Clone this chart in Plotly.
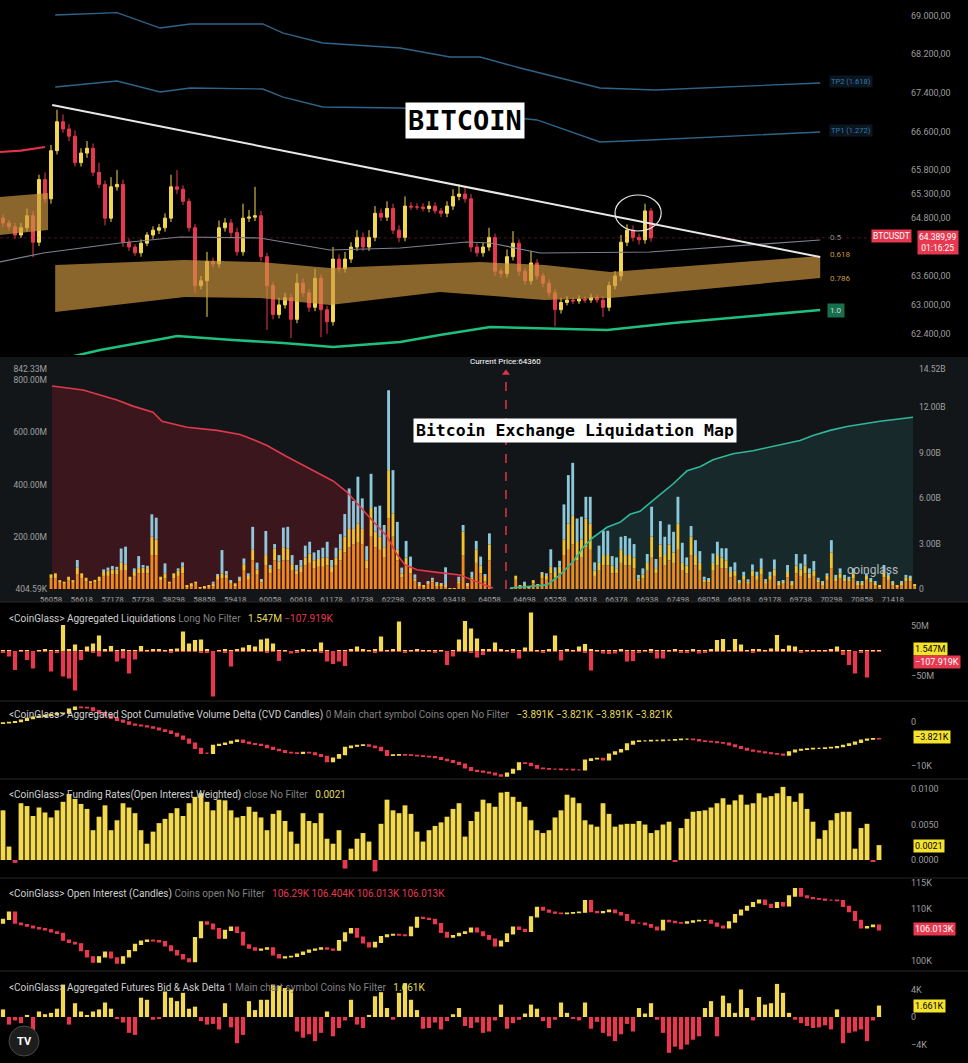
import plotly.graph_objects as go

W, H = 968, 1063


def px(x):
    return x / W


def py(y):
    return 1 - y / H


YEL = "#f2d94e"
RED = "#e8384f"
BOXYEL = "#f4e22c"
FONT = "Roboto"
MONO = "DejaVu Sans Mono"

# ================= TOP: BTCUSDT price chart =================
candle_close = [
    64700, 64620, 64450, 64600, 64850, 64300, 65600, 65200, 66200, 66800,
    66650, 66500, 65950, 66150, 66250, 65750, 65500, 64800, 65450, 65500,
    64300, 64200, 64080, 64280, 64450, 64550, 64600, 64800, 65450, 65400,
    65150, 64600, 63400, 63500, 63900, 63850, 64600, 64700, 64500, 64100,
    64800, 64820, 64850, 64000, 63400, 62800, 63000, 63150, 62700, 63450,
    63250, 62950, 63550, 62900, 62650, 63950, 63750, 63950, 64200, 64400,
    64200, 64400, 64900, 64820, 65000, 64550, 64400, 65050, 65030, 65030,
    65000, 65050, 64950, 64900, 65050, 65250, 65300, 65200, 64200, 64080,
    64200, 64400, 63700, 63650, 64000, 64280, 63700, 63500, 63870, 63600,
    63450, 63250, 62900, 63050, 63100, 63080, 63120, 63100, 63150, 63100,
    62950, 63400, 63600, 64300, 64550, 64400, 64350, 64950, 64390]
wick_up = [
    80, 60, 80, 100, 150, 100, 100, 150, 120, 250,
    150, 100, 120, 100, 150, 100, 200, 80, 200, 300,
    100, 80, 60, 80, 60, 80, 80, 100, 250, 350,
    80, 60, 80, 100, 200, 80, 150, 100, 80, 100,
    300, 150, 600, 100, 80, 80, 150, 100, 80, 200,
    100, 80, 200, 80, 80, 250, 100, 150, 100, 150,
    100, 150, 150, 100, 150, 100, 100, 200, 80, 80,
    80, 100, 80, 60, 100, 150, 200, 150, 100, 80,
    100, 200, 80, 60, 150, 250, 80, 60, 250, 80,
    60, 80, 80, 100, 80, 60, 80, 60, 80, 60,
    80, 80, 100, 150, 120, 100, 80, 150, 60]
wick_dn = [
    80, 80, 80, 60, 80, 310, 80, 80, 100, 80,
    80, 100, 80, 80, 100, 80, 80, 150, 80, 80,
    100, 80, 60, 80, 60, 80, 80, 80, 80, 100,
    80, 80, 150, 80, 750, 80, 80, 80, 100, 80,
    80, 80, 80, 100, 920, 100, 80, 80, 390, 80,
    80, 100, 80, 570, 250, 80, 80, 80, 80, 80,
    80, 80, 80, 80, 80, 80, 100, 80, 60, 60,
    60, 80, 60, 80, 80, 80, 80, 80, 100, 80,
    80, 80, 100, 80, 80, 80, 100, 80, 80, 80,
    80, 80, 350, 80, 60, 60, 60, 60, 60, 60,
    200, 80, 80, 100, 80, 80, 100, 80, 80]
first_open = 64800
candle_open = [first_open] + candle_close[:-1]
candle_high = [max(o, c) + w for o, c, w in zip(candle_open, candle_close, wick_up)]
candle_low = [min(o, c) - w for o, c, w in zip(candle_open, candle_close, wick_dn)]
candle_x = list(range(len(candle_close)))

price_ticks = [62400, 63000, 63600, 64800, 65300, 65800, 66600, 67400, 68200, 69000]
price_tick_text = ["62.400,00", "63.000,00", "63.600,00", "64.800,00", "65.300,00",
                   "65.800,00", "66.600,00", "67.400,00", "68.200,00", "69.000,00"]
last_price = 64390

trend_x = [8.2, 136.2]
trend_y = [67147, 63993]

tp2_x = [8.7, 19, 26.2, 31.2, 43.3, 46.7, 53.3, 66.2, 74.5, 79.5, 86.2, 99.5, 108.7, 136.2]
tp2_y = [69015, 69062, 68745, 68828, 68828, 68641, 68434, 68330, 68143, 68143, 67915, 67500, 67459, 67604]
tp1_x = [8.7, 19, 26.2, 31.2, 43.3, 46.7, 53.3, 66.2, 72.8, 89, 99.5, 107.8, 136.2]
tp1_y = [67521, 67645, 67417, 67500, 67479, 67313, 67106, 67085, 67044, 66836, 66380, 66421, 66587]

mid_x = [-0.5, 6.7, 19.5, 29.5, 42.8, 54.5, 66.2, 77.3, 81.2, 89.5, 107.8, 136.2]
mid_y = [63890, 64076, 64284, 64408, 64388, 64139, 64180, 64305, 64284, 64076, 64097, 64346]

green_x = [11.2, 16.2, 27.3, 29, 38.3, 46.7, 55, 66.2, 72.8, 81.2, 100.7, 111.7, 136.2]
green_y = [61918, 62064, 62313, 62354, 62271, 62209, 62126, 62230, 62375, 62541, 62479, 62624, 62894]

red_x = [-0.5, 3, 7]
red_y = [66172, 66200, 66276]

band_left_x = [-0.5, 7.5]
band_left_hi = [65238, 65321]
band_left_lo = [64450, 64554]
band_hi_x = [8.7, 30.3, 42.8, 54.5, 79.5, 90.3, 101.2, 136.2]
band_hi_y = [63827, 63931, 63890, 63765, 63890, 63827, 63682, 64014]
band_lo_x = [8.7, 30.3, 42.8, 54.5, 72.8, 90.3, 101.2, 136.2]
band_lo_y = [62852, 63163, 63142, 62997, 63267, 63101, 63142, 63557]

# ================= Liquidation map =================
liq_start, liq_step = 56058, 80
liq_orange = [
    40, 40, 24, 20, 32, 24, 55, 42, 30, 22, 25,
    30, 50, 50, 55, 55, 70, 70, 32, 50, 60, 60, 60, 130, 130, 32, 40, 20, 40, 50, 60, 10, 15, 20, 4, 7,
    10, 15, 35, 40, 40, 20, 15, 30, 70, 35, 110, 55, 25, 90, 60, 110, 75, 110, 110, 70, 55, 65, 90, 100, 80,
    85, 85, 90, 65, 90, 110, 140, 160, 170, 180, 170, 80, 200, 160, 150, 120, 270, 200, 110, 45,
    90, 60, 30, 15, 10, 20, 25, 15, 15, 10, 2, 2, 20, 130, 15, 30, 100, 60, 30, 110,
    0, 0, 0, 0,
    2, 35, 10, 10, 7, 22, 12, 40, 35, 60, 45, 60, 130, 150, 170, 110, 120, 160, 150, 50,
    70, 90, 90, 60, 60, 100, 90, 90, 80, 30, 40, 70, 120, 60, 120, 90, 110, 100, 150, 70,
    60, 130, 90, 70, 25, 25, 70, 90, 80, 80, 45, 50, 20, 35, 20, 50, 35, 55, 20, 35,
    50, 18, 20, 45, 18, 60, 50, 60, 40, 50, 25, 18, 35, 80, 30, 40, 30, 28, 40, 18,
    18, 35, 25, 18, 10, 45, 35, 18, 10, 18, 30, 30, 12]
liq_yellow = [
    16, 20, 10, 8, 15, 10, 26, 18, 13, 8, 10,
    17, 15, 20, 20, 20, 30, 25, 15, 15, 20, 22, 20, 70, 60, 15, 20, 8, 20, 20, 25, 5, 7, 8, 2, 3,
    5, 5, 15, 20, 15, 8, 7, 12, 25, 15, 40, 20, 8, 40, 20, 45, 30, 50, 45, 25, 15, 20, 30, 35, 30,
    30, 35, 30, 20, 30, 40, 60, 70, 60, 70, 60, 30, 110, 60, 50, 40, 185, 90, 40, 15,
    30, 20, 10, 5, 5, 5, 8, 5, 5, 5, 1, 1, 10, 90, 5, 15, 50, 30, 20, 60,
    0, 0, 0, 0,
    1, 16, 5, 5, 4, 12, 6, 20, 15, 25, 20, 25, 60, 100, 110, 70, 70, 110, 100, 20,
    30, 40, 40, 30, 20, 50, 40, 40, 40, 10, 15, 30, 80, 20, 50, 40, 60, 40, 100, 30,
    30, 70, 40, 30, 10, 10, 30, 40, 40, 30, 20, 20, 8, 15, 8, 20, 15, 25, 10, 15,
    25, 6, 8, 20, 6, 30, 25, 30, 20, 20, 10, 6, 15, 60, 12, 20, 12, 10, 20, 6,
    6, 15, 10, 6, 5, 20, 15, 6, 5, 6, 15, 15, 6]
liq_blue = [
    0, 0, 0, 0, 0, 0, 30, 0, 0, 0, 0,
    0, 10, 12, 13, 10, 55, 67, 0, 14, 46, 10, 9, 86, 83, 0, 38, 0, 0, 9, 17, 0, 0, 0, 0, 0,
    0, 8, 4, 89, 14, 4, 0, 5, 22, 10, 88, 26, 5, 92, 12, 17, 25, 75, 83, 35, 22, 26, 46, 46, 30,
    34, 38, 61, 26, 38, 60, 87, 155, 107, 180, 117, 54, 131, 95, 119, 85, 306, 165, 107, 22,
    64, 44, 16, 4, 0, 5, 10, 4, 2, 68, 0, 0, 17, 25, 2, 21, 34, 34, 4, 43,
    0, 0, 0, 0,
    0, 0, 0, 13, 0, 0, 0, 4, 10, 67, 18, 23, 134, 186, 203, 90, 87, 83, 103, 32,
    66, 93, 93, 36, 41, 50, 73, 64, 52, 14, 24, 34, 115, 35, 90, 70, 77, 79, 103, 77,
    31, 41, 57, 45, 12, 6, 36, 51, 36, 46, 20, 32, 6, 16, 9, 24, 16, 37, 8, 16,
    38, 4, 6, 27, 4, 44, 23, 43, 19, 37, 8, 4, 10, 47, 12, 19, 12, 9, 19, 4,
    4, 10, 6, 4, 0, 27, 10, 4, 0, 4, 9, 6, 0]
liq_prices = [liq_start + liq_step * k for k in range(len(liq_orange))]

short_cum_price = [56076, 56642, 56952, 57262, 57554, 57919, 58084, 58540, 59087, 59507, 59744, 60000, 60365,
                   60784, 61204, 61460, 61697, 61934, 62190, 62372, 62518, 62737, 63029, 63522, 63832, 64124]
short_cum_val = [13.4, 13.13, 12.8, 12.47, 12.07, 11.67, 11.07, 10.67, 10.47, 10.2, 9.87, 9.47, 8.73,
                 7.93, 7.13, 6.4, 5.4, 4.47, 3.47, 2.27, 1.6, 1.27, 1.13, 0.93, 0.47, 0.07]
long_cum_price = [64434, 65109, 65346, 65584, 65766, 65949, 66204, 66441, 66624, 66806, 67116, 67408,
                  67664, 67901, 68139, 68503, 68868, 69361, 69726, 69963, 70274, 70584, 71186, 71788]
long_cum_val = [0.07, 0.27, 0.93, 1.8, 2.73, 3.4, 4.07, 4.4, 4.93, 5.13, 6.07, 6.93,
                7.8, 8.07, 8.53, 8.93, 9.13, 9.53, 9.8, 10.13, 10.47, 10.73, 11.07, 11.33]
current_price = 64360

liq_x_ticks = [56058, 56618, 57178, 57738, 58298, 58858, 59418, 60058, 60618, 61178, 61738, 62298, 62858,
               63418, 64058, 64698, 65258, 65818, 66378, 66938, 67498, 68058, 68618, 69178, 69738, 70298,
               70858, 71418]
liq_left_ticks = [0.40459, 200, 400, 600, 800, 842.33]
liq_left_text = ["404.59K", "200.00M", "400.00M", "600.00M", "800.00M", "842.33M"]
liq_right_ticks = [0, 3, 6, 9, 12, 14.52]
liq_right_text = ["0", "3.00B", "6.00B", "9.00B", "12.00B", "14.52B"]

# ================= Lower indicator panels =================
agg_liq_up = [
    2, 1, 0, 2, 1, 0, 2, 3, 1, 2,
    52, 3, 13, 2, 9, 15, 31, 4, 10, 2,
    3, 1, 2, 10, 2, 3, 4, 2, 3, 5,
    39, 15, 22, 23, 3, 0, 2, 3, 1, 4,
    7, 12, 9, 23, 25, 15, 2, 1, 0, 2,
    3, 2, 4, 17, 2, 0, 1, 2, 3, 9,
    4, 2, 3, 29, 2, 4, 59, 2, 1, 3,
    2, 1, 2, 1, 0, 2, 23, 60, 45, 25,
    3, 4, 17, 3, 2, 4, 1, 7, 77, 2,
    1, 3, 31, 2, 3, 2, 9, 14, 3, 1,
    2, 1, 2, 3, 1, 2, 1, 2, 3, 1,
    2, 1, 3, 2, 1, 3, 2, 1, 4, 22,
    24, 2, 24, 13, 2, 3, 4, 2, 5, 32,
    3, 11, 9, 2, 1, 2, 1, 2, 3, 9,
    2, 1, 0, 1, 2, 1, 1.5]
agg_liq_dn = [
    -3, -11, -38, -2, -18, -35, -2, -1, -41, -3,
    -51, -55, -79, -18, -2, -3, -11, -2, -1, -21,
    -15, -45, -17, -2, -1, -2, -1, -2, -3, -1,
    -2, -1, -2, -3, -4, -91, -2, -3, -31, -2,
    -1, -2, -1, -2, -3, -2, -20, -2, -5, -3,
    -2, -1, -2, -3, -21, -26, -21, -30, -2, -1,
    -2, -1, -3, -1, -2, -1, -2, -3, -1, -2,
    -1, -2, -3, -2, -28, -11, -2, -1, -3, -13,
    -8, -2, -1, -2, -1, -3, -15, -2, -1, -2,
    -3, -2, -1, -19, -2, -1, -2, -3, -39, -2,
    -5, -6, -5, -2, -21, -20, -3, -2, -4, -15,
    -15, -2, -1, -3, -4, -2, -5, -3, -2, -1,
    -2, -1, -2, -1, -2, -3, -1, -2, -1, -2,
    -1, -2, -1, -3, -2, -1, -2, -1, -2, -1,
    -8, -28, -45, -3, -53, -2, -0.1]

cvd_close = [
    -0.2, -0.1, 0.1, 0.4, 0.8, 1.1, 1.3, 1.5, 1.7, 1.9,
    2.0, 2.9, 3.4, 3.3, 3.2, 2.6, 2.0, 1.4, 0.9, 0.4,
    0.0, -0.5, -0.7, -0.9, -1.1, -1.4, -1.8, -2.1, -2.6, -3.2,
    -3.9, -4.8, -6.0, -7.1, -7.1, -5.3, -5.1, -4.8, -4.4, -4.1,
    -4.6, -4.9, -5.1, -5.3, -5.8, -6.2, -6.5, -6.9, -7.0, -7.1,
    -6.9, -7.0, -7.4, -7.8, -9.0, -8.2, -7.4, -5.8, -5.5, -5.3,
    -5.2, -5.5, -5.8, -6.5, -7.6, -7.5, -7.4, -7.5, -7.6, -7.7,
    -7.8, -7.9, -8.1, -8.5, -8.8, -9.2, -9.6, -10.4, -11.0, -11.2,
    -11.4, -11.6, -12.0, -12.3, -11.6, -10.8, -9.3, -9.4, -9.9, -10.5,
    -10.6, -10.7, -10.7, -10.8, -10.8, -10.9, -10.9, -8.7, -8.4, -8.3,
    -8.6, -7.3, -6.8, -6.3, -5.0, -4.4, -4.3, -4.3, -4.2, -4.2,
    -4.1, -4.1, -4.0, -3.9, -3.9, -4.0, -4.3, -4.4, -4.5, -4.7,
    -4.8, -5.2, -5.6, -6.0, -6.4, -6.6, -6.8, -7.0, -7.2, -7.3,
    -7.5, -6.8, -6.4, -6.2, -6.1, -6.0, -6.0, -5.9, -5.8, -5.6,
    -5.3, -5.0, -4.6, -4.1, -3.9, -3.8, -3.821]
cvd_open = [-0.3] + cvd_close[:-1]

funding_bp = [
    70, 19, -4, 80, 76, 62, 74, 67, 60, 70,
    82, 93, 86, 79, 72, 42, 61, 77, 42, 56,
    80, 74, 66, 42, 23, 40, 52, 58, 66, 73,
    62, 80, 89, 94, 82, 70, 85, 84, 70, 60,
    62, 75, 68, 60, 42, 65, 70, 55, 40, 23,
    66, 55, 52, 66, 30, 23, 42, -12, 16, 30,
    38, 26, -16, 51, 85, 70, 66, 77, 65, 40,
    26, 42, 48, 53, 61, 72, 80, 33, 55, 68,
    85, 80, 75, 95, 96, 89, 82, 75, 56, 42,
    38, 42, 60, 70, 92, 88, 80, 56, 50, 47,
    80, 65, 47, 50, 51, 51, 55, 50, 38, 42,
    50, 54, -2, 45, 58, 68, 69, 70, 74, 80,
    87, 78, 84, 92, 78, 80, 94, 88, 90, 94,
    103, 90, 82, 94, 72, 54, 30, 42, 56, 66,
    68, 68, 16, 45, 51, -2, 21]

oi_close = [
    108.0, 109.4, 107.3, 107.0, 106.7, 106.4, 106.2, 106.0, 105.6, 105.3,
    104.0, 103.6, 103.3, 102.0, 100.8, 99.8, 100.8, 101.7, 100.6, 99.6,
    100.8, 102.0, 103.2, 103.8, 104.0, 103.9, 103.7, 102.9, 102.0, 101.2,
    100.4, 99.9, 104.5, 107.5, 107.1, 106.2, 104.4, 105.9, 106.5, 105.5,
    103.1, 102.5, 102.1, 102.3, 102.5, 101.2, 100.6, 100.8, 100.9, 101.3,
    101.7, 102.1, 102.3, 102.5, 102.3, 102.1, 103.9, 105.4, 106.2, 104.6,
    103.5, 102.7, 103.6, 104.7, 105.0, 105.1, 105.0, 104.9, 106.5, 108.4,
    108.2, 108.0, 107.2, 105.5, 104.6, 104.9, 105.3, 105.6, 106.3, 105.6,
    104.9, 104.2, 102.9, 103.8, 105.2, 106.5, 106.1, 105.7, 108.5, 110.3,
    109.8, 109.4, 109.2, 109.1, 109.2, 109.3, 109.4, 111.6, 109.5, 109.3,
    109.5, 109.8, 109.3, 108.9, 107.8, 107.3, 107.3, 107.0, 106.5, 106.0,
    107.8, 107.6, 107.4, 107.3, 107.5, 107.7, 107.8, 107.8, 107.3, 106.7,
    106.4, 107.5, 108.9, 109.8, 110.5, 111.2, 111.7, 110.9, 110.3, 111.2,
    110.6, 112.5, 113.9, 112.5, 112.2, 112.0, 111.9, 111.7, 111.7, 111.6,
    110.5, 109.5, 107.8, 106.4, 106.6, 106.9, 106.013]
oi_open = [107.3] + oi_close[:-1]

delta_k = [
    1.1, -1.1, -0.5, -0.9, 0.3, -1.9, 0.8, 0.4, 0.6, 1.2,
    4.7, -1.1, 2.0, 0.8, 0.2, 0.8, 1.1, 2.1, 1.2, -0.3,
    -0.8, -2.3, -2.6, 2.8, 2.5, -0.4, -0.2, 3.7, 2.8, 2.3,
    3.5, 1.2, 1.5, -0.6, -1.1, -1.0, -1.8, 2.0, -1.5, -3.8,
    -2.6, 2.3, 1.0, 2.5, 2.5, 4.7, 4.5, 4.2, 4.0, -2.1,
    -3.0, -2.5, -3.5, -2.3, 0.8, -2.8, -1.6, -0.5, 2.5, -1.1,
    -1.6, 0.3, 3.0, 3.6, 1.3, -0.4, 3.5, 4.9, 2.5, 1.0,
    -1.7, -1.6, -0.8, -1.8, -0.6, 0.4, 1.3, -1.3, -1.6, -0.8,
    -2.3, -2.1, -0.5, 1.8, -1.7, -0.9, -0.4, 0.5, 1.8, 1.2,
    -0.6, -1.6, -0.4, 2.1, 0.6, -0.3, -0.5, 2.1, -1.7, -0.7,
    -2.3, -2.8, -3.5, -2.5, -1.0, -2.1, 1.3, 0.5, 2.0, -0.4,
    -2.3, -5.2, -4.3, -4.7, -4.0, -3.3, -2.8, 1.3, 2.3, -2.8,
    3.1, 2.0, 0.6, 4.0, 1.3, -0.5, 2.9, 1.8, 2.0, 4.8,
    3.5, 0.6, -0.4, -0.9, -1.3, -1.6, -1.5, -1.2, -1.8, 1.1,
    -3.8, -2.3, -2.1, -1.8, -3.5, -0.5, 1.661]

# ================= Build figure =================
fig = go.Figure()
BAND = "rgba(205,150,65,0.68)"

# bands
fig.add_trace(go.Scatter(x=band_left_x, y=band_left_lo, mode="lines", line=dict(width=0),
                         xaxis="x", yaxis="y", hoverinfo="skip", showlegend=False))
fig.add_trace(go.Scatter(x=band_left_x, y=band_left_hi, mode="lines", line=dict(width=0), fill="tonexty",
                         fillcolor=BAND, xaxis="x", yaxis="y", hoverinfo="skip", showlegend=False))
fig.add_trace(go.Scatter(x=band_lo_x, y=band_lo_y, mode="lines", line=dict(width=0),
                         xaxis="x", yaxis="y", hoverinfo="skip", showlegend=False))
fig.add_trace(go.Scatter(x=band_hi_x, y=band_hi_y, mode="lines", line=dict(width=0), fill="tonexty",
                         fillcolor=BAND, xaxis="x", yaxis="y", hoverinfo="skip", showlegend=False))

# level lines
for xs, ys, col, wd in [(tp2_x, tp2_y, "#2f6489", 1.3), (tp1_x, tp1_y, "#2f6489", 1.3),
                        (mid_x, mid_y, "#7d8290", 1.2), (green_x, green_y, "#1fbf7f", 2.6),
                        (red_x, red_y, "#e0334a", 2.2)]:
    fig.add_trace(go.Scatter(x=xs, y=ys, mode="lines", line=dict(color=col, width=wd),
                             xaxis="x", yaxis="y", hoverinfo="skip", showlegend=False))

# candles
fig.add_trace(go.Candlestick(
    x=candle_x, open=candle_open, high=candle_high, low=candle_low, close=candle_close,
    increasing=dict(line=dict(color=YEL, width=1), fillcolor=YEL),
    decreasing=dict(line=dict(color=RED, width=1), fillcolor=RED),
    whiskerwidth=0, xaxis="x", yaxis="y", showlegend=False))

# trend line
fig.add_trace(go.Scatter(x=trend_x, y=trend_y, mode="lines", line=dict(color="#e8e8e8", width=2),
                         xaxis="x", yaxis="y", hoverinfo="skip", showlegend=False))

# ---- liquidation map ----
fig.add_trace(go.Scatter(x=short_cum_price, y=short_cum_val, mode="lines", line=dict(width=0),
                         fill="tozeroy", fillcolor="rgba(120,24,36,0.42)",
                         xaxis="x2", yaxis="y2", hoverinfo="skip", showlegend=False))
fig.add_trace(go.Scatter(x=long_cum_price, y=long_cum_val, mode="lines", line=dict(width=0),
                         fill="tozeroy", fillcolor="rgba(40,110,105,0.22)",
                         xaxis="x2", yaxis="y2", hoverinfo="skip", showlegend=False))
for vals, col in [(liq_orange, "#ee8a1e"), (liq_yellow, "#f3c22f"), (liq_blue, "#8cc8da")]:
    fig.add_trace(go.Bar(x=liq_prices, y=vals, width=52, marker=dict(color=col, line=dict(width=0)),
                         xaxis="x2", yaxis="y3", showlegend=False, hoverinfo="skip"))
fig.add_trace(go.Scatter(x=short_cum_price, y=short_cum_val, mode="lines",
                         line=dict(color="#dd3a4c", width=1.6),
                         xaxis="x2", yaxis="y9", hoverinfo="skip", showlegend=False))
fig.add_trace(go.Scatter(x=long_cum_price, y=long_cum_val, mode="lines",
                         line=dict(color="#2fb79a", width=1.6),
                         xaxis="x2", yaxis="y9", hoverinfo="skip", showlegend=False))
fig.add_trace(go.Scatter(x=[current_price], y=[14.25], mode="markers",
                         marker=dict(symbol="triangle-up", size=7, color="#e0334a"),
                         xaxis="x2", yaxis="y9", hoverinfo="skip", showlegend=False))

# ---- lower panels ----
fig.add_trace(go.Bar(x=list(range(len(agg_liq_up))), y=agg_liq_up, width=0.7,
                     marker=dict(color=YEL, line=dict(width=0)),
                     xaxis="x4", yaxis="y4", showlegend=False, hoverinfo="skip"))
fig.add_trace(go.Bar(x=list(range(len(agg_liq_dn))), y=agg_liq_dn, width=0.7,
                     marker=dict(color=RED, line=dict(width=0)),
                     xaxis="x4", yaxis="y4", showlegend=False, hoverinfo="skip"))

cvd_x = list(range(len(cvd_close)))
fig.add_trace(go.Candlestick(
    x=cvd_x, open=cvd_open, close=cvd_close,
    high=[max(o, c) for o, c in zip(cvd_open, cvd_close)],
    low=[min(o, c) for o, c in zip(cvd_open, cvd_close)],
    increasing=dict(line=dict(color=YEL, width=1.3), fillcolor=YEL),
    decreasing=dict(line=dict(color=RED, width=1.3), fillcolor=RED),
    whiskerwidth=0, xaxis="x5", yaxis="y5", showlegend=False))

fig.add_trace(go.Bar(x=list(range(len(funding_bp))), y=funding_bp, width=0.8,
                     marker=dict(color=[YEL if v >= 0 else RED for v in funding_bp], line=dict(width=0)),
                     xaxis="x6", yaxis="y6", showlegend=False, hoverinfo="skip"))

oi_x = list(range(len(oi_close)))
fig.add_trace(go.Candlestick(
    x=oi_x, open=oi_open, close=oi_close,
    high=[max(o, c) for o, c in zip(oi_open, oi_close)],
    low=[min(o, c) for o, c in zip(oi_open, oi_close)],
    increasing=dict(line=dict(color=YEL, width=1.3), fillcolor=YEL),
    decreasing=dict(line=dict(color=RED, width=1.3), fillcolor=RED),
    whiskerwidth=0, xaxis="x7", yaxis="y7", showlegend=False))

fig.add_trace(go.Bar(x=list(range(len(delta_k))), y=delta_k, width=0.7,
                     marker=dict(color=[YEL if v >= 0 else RED for v in delta_k], line=dict(width=0)),
                     xaxis="x8", yaxis="y8", showlegend=False, hoverinfo="skip"))

# ================= Layout =================
XR = [-0.5, 910 / 6 - 0.5]
XD = [0, 910 / W]
tickf = dict(family=FONT, size=9, color="#9c9c9c")


def hidden_x(anchor):
    return dict(domain=XD, range=XR, anchor=anchor, visible=False, showgrid=False, zeroline=False,
                rangeslider=dict(visible=False), fixedrange=True)


def right_y(top, bottom, rng, vals, text, anchor):
    return dict(domain=[py(bottom), py(top)], range=rng, side="right", anchor=anchor,
                tickvals=vals, ticktext=text, showgrid=False, zeroline=False, showline=False,
                ticks="", tickfont=tickf, automargin=False)


layout = dict(
    width=W, height=H, margin=dict(l=0, r=0, t=0, b=0, pad=0), autosize=False,
    paper_bgcolor="#000000", plot_bgcolor="rgba(0,0,0,0)",
    barmode="relative", bargap=0.2, showlegend=False,
    font=dict(family=FONT, color="#cccccc"),
    xaxis=hidden_x("y"),
    yaxis=right_y(0, 355, [61960, 69326], price_ticks, price_tick_text, "x"),
    xaxis2=dict(domain=[px(48), px(918)], range=[56003, 71879], anchor="y2",
                tickvals=liq_x_ticks, ticktext=[str(v) for v in liq_x_ticks],
                showgrid=False, zeroline=False, showline=False, ticks="", automargin=False,
                ticklabelstandoff=4,
                tickfont=dict(family=FONT, size=8, color="#a0a0a0"), tickangle=0, fixedrange=True),
    yaxis2=dict(domain=[py(589), py(369)], range=[0, 14.52], side="right", anchor="x2",
                tickvals=liq_right_ticks, ticktext=liq_right_text, showgrid=False, zeroline=False,
                ticks="", automargin=False, tickfont=dict(family=FONT, size=8.5, color="#a0a0a0")),
    yaxis3=dict(overlaying="y2", range=[0, 842.33], side="left", anchor="x2",
                tickvals=liq_left_ticks, ticktext=liq_left_text, showgrid=False, zeroline=False,
                ticks="", automargin=False, tickfont=dict(family=FONT, size=8.5, color="#a0a0a0")),
    yaxis9=dict(overlaying="y2", range=[0, 14.52], side="right", anchor="x2", visible=False),
    xaxis4=hidden_x("y4"),
    yaxis4=right_y(603, 700, [-98, 96], [50, -50], ["50M", "−50M"], "x4"),
    xaxis5=hidden_x("y5"),
    yaxis5=right_y(703, 778, [-12.73, 4.32], [0, -10], ["0", "−10K"], "x5"),
    xaxis6=hidden_x("y6"),
    yaxis6=right_y(781, 877, [-23.9, 111.3], [0, 50, 100], ["0.0000", "0.0050", "0.0100"], "x6"),
    xaxis7=hidden_x("y7"),
    yaxis7=right_y(880, 970, [98.27, 115.58], [100, 110, 115], ["100K", "110K", "115K"], "x7"),
    xaxis8=hidden_x("y8"),
    yaxis8=right_y(973, 1063, [-6.67, 6.38], [4, 0, -4], ["4K", "0", "−4K"], "x8"),
)
fig.update_layout(**layout)

# ================= Shapes =================
shapes = [
    dict(type="rect", xref="paper", yref="paper", x0=0, x1=1, y0=py(602), y1=py(357),
         fillcolor="#121619", line=dict(width=0), layer="below"),
    dict(type="line", xref="paper", yref="y", x0=0, x1=px(910), y0=last_price, y1=last_price,
         line=dict(color="rgba(232,56,79,0.35)", width=1, dash="dot")),
    dict(type="circle", xref="x", yref="y", x0=102, x1=109.7, y0=64533, y1=65280,
         line=dict(color="#e6e6e6", width=1.2)),
    dict(type="line", xref="x2", yref="paper", x0=current_price, x1=current_price,
         y0=py(589), y1=py(375), line=dict(color="#e0334a", width=1.5, dash="dash")),
    dict(type="circle", xref="paper", yref="paper", x0=px(9), x1=px(39), y0=py(1056), y1=py(1026),
         fillcolor="#1d1d1d", line=dict(color="#4a4a4a", width=1)),
]
for ysep in [602, 701, 779, 878, 971]:
    shapes.append(dict(type="line", xref="paper", yref="paper", x0=0, x1=1, y0=py(ysep), y1=py(ysep),
                       line=dict(color="#262626", width=1)))
fig.update_layout(shapes=shapes)

# ================= Annotations =================
anns = []


def ann(x, y, text, size=9, color="#cccccc", bg=None, xanchor="center", family=FONT, pad=1, align="center"):
    d = dict(x=px(x), y=py(y), xref="paper", yref="paper", text=text, showarrow=False,
             xanchor=xanchor, yanchor="middle", align=align,
             font=dict(family=family, size=size, color=color), borderpad=pad)
    if bg:
        d["bgcolor"] = bg
    anns.append(d)


ann(465, 121, "<b>BITCOIN</b>", size=27, color="#000000", bg="#ffffff", family=MONO, pad=2)
ann(851, 82, "TP2 (1.618)", size=7.5, color="#3d78a8", bg="#0a1620")
ann(851, 130, "TP1 (1.272)", size=7.5, color="#3d78a8", bg="#0a1620")
ann(836, 237, "0.5", size=8, color="#8a8a8a")
ann(840, 254, "0.618", size=8, color="#c9973d")
ann(840, 278, "0.786", size=8, color="#c9973d")
ann(836, 310, "1.0", size=8, color="#d8d8d8", bg="#16704c", pad=2)
ann(891, 236, "BTCUSDT", size=8.5, color="#ffffff", bg=RED)
ann(938, 242, "64.389,99<br>01:16:25", size=8.5, color="#ffffff", bg=RED)

ann(505, 361, "Current Price:64360", size=8, color="#ffffff")
ann(575, 431, "<b>Bitcoin Exchange Liquidation Map</b>", size=16.5, color="#000000", bg="#ffffff",
    family=MONO, pad=2)
ann(872, 570, "coinglass", size=12, color="#b5b9bd")


def header(y, main, sub, vals):
    txt = ("<span style='color:#cfcfcf'>" + main + "</span>"
           + " <span style='color:#808080'>" + sub + "</span>   " + vals)
    ann(7, y, txt, size=10, xanchor="left", align="left")


header(618, "&lt;CoinGlass&gt; Aggregated Liquidations", "Long No Filter",
       "<span style='color:#e6dc5a'>1.547M</span> <span style='color:#e8384f'>−107.919K</span>")
header(715, "&lt;CoinGlass&gt; Aggregated Spot Cumulative Volume Delta (CVD Candles)",
       "0 Main chart symbol Coins open No Filter",
       "<span style='color:#e6dc5a'>−3.891K −3.821K −3.891K −3.821K</span>")
header(795, "&lt;CoinGlass&gt; Funding Rates(Open Interest Weighted)", "close No Filter",
       "<span style='color:#e6dc5a'>0.0021</span>")
header(894, "&lt;CoinGlass&gt; Open Interest (Candles)", "Coins open No Filter",
       "<span style='color:#e8384f'>106.29K 106.404K 106.013K 106.013K</span>")
header(987, "&lt;CoinGlass&gt; Aggregated Futures Bid &amp; Ask Delta",
       "1 Main chart symbol Coins No Filter", "<span style='color:#e6dc5a'>1.661K</span>")

ann(913, 649, "1.547M", size=9, color="#000000", bg=BOXYEL, xanchor="left")
ann(913, 662, "−107.919K", size=9, color="#ffffff", bg=RED, xanchor="left")
ann(913, 737, "−3.821K", size=9, color="#000000", bg=BOXYEL, xanchor="left")
ann(913, 846, "0.0021", size=9, color="#000000", bg=BOXYEL, xanchor="left")
ann(913, 929, "106.013K", size=9, color="#ffffff", bg=RED, xanchor="left")
ann(913, 1006, "1.661K", size=9, color="#000000", bg=BOXYEL, xanchor="left")
ann(24, 1041, "<b>TV</b>", size=11, color="#ffffff")

fig.update_layout(annotations=anns)

page_fix = ("document.documentElement.style.margin='0';document.documentElement.style.overflow='hidden';"
            "document.body.style.margin='0';document.body.style.padding='0';"
            "document.body.style.overflow='hidden';document.body.style.background='#000';")
fig.write_html("out.html", config={"displayModeBar": False}, post_script=page_fix)
